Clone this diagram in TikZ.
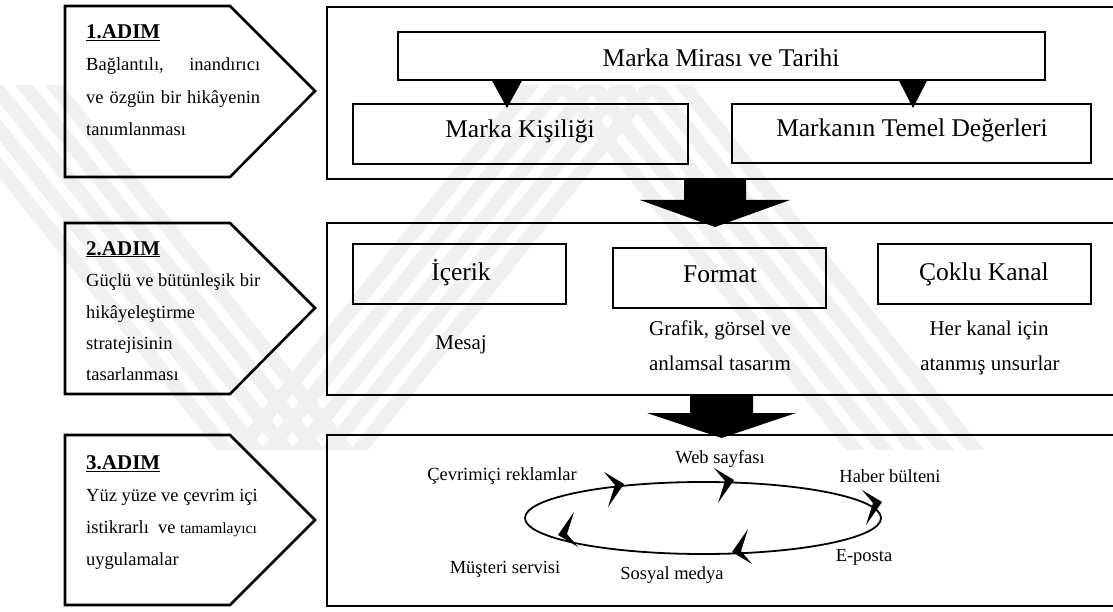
\documentclass[tikz,border=0pt]{standalone}
\usepackage{fontspec}
\setmainfont{Liberation Serif}
\usetikzlibrary{calc,shapes.geometric}
\begin{document}
\begin{tikzpicture}[x=1pt,y=-1pt,
  frame/.style={draw, line width=2pt},
  stepshape/.style={draw, line width=2.6pt, line join=miter},
  inbox/.style={draw, line width=1.4pt, inner sep=0pt},
  big/.style={font=\fontsize{25.5}{30}\selectfont, inner sep=0pt, anchor=base},
  mid/.style={font=\fontsize{21}{25}\selectfont, inner sep=0pt, anchor=base},
  small/.style={font=\fontsize{18.5}{22}\selectfont, inner sep=0pt, anchor=base},
  steptxt/.style={font=\fontsize{18.5}{22}\selectfont, inner sep=0pt, anchor=base west},
  steptitle/.style={font=\fontsize{21}{25}\selectfont\bfseries, inner sep=0pt, anchor=base west},
  blockarrow/.style={fill=black},
  wmark/.style={fill=black!6, draw=none},
  chev/.pic={\fill (-18,-12) -- (2,0) -- (-14,23) -- (-7,1) -- cycle;}
]
\useasboundingbox (0,0) rectangle (1113,612);

% faint striped watermark in the background: three bands of thin stripes
\foreach \xt/\xb in {-75/217, 522/230, 554/846}{
  \foreach \i in {0,...,4}{
    \fill[wmark] (\xt+\i*30,85) -- (\xt+\i*30+18,85) -- (\xb+\i*30+18,450) -- (\xb+\i*30,450) -- cycle;
  }
}

% step arrows on the left
\draw[stepshape] (65,6) -- (230,6) -- (315,91) -- (230,177) -- (65,177) -- cycle;
\draw[stepshape] (65,223) -- (230,223) -- (315,308) -- (230,394) -- (65,394) -- cycle;
\draw[stepshape] (65,435) -- (230,435) -- (315,520) -- (230,605) -- (65,605) -- cycle;

\node[steptitle] (s1h) at (86,39) {\underline{1.ADIM}};
\node[steptxt] (s1a) at (86,71) {\makebox[174pt][s]{Bağlantılı, inandırıcı}};
\node[steptxt] (s1b) at (86,104) {\makebox[174pt][s]{ve özgün bir hikâyenin}};
\node[steptxt] (s1c) at (86,136) {tanımlanması};

\node[steptitle] (s2h) at (86,255) {\underline{2.ADIM}};
\node[steptxt] (s2a) at (86,287) {Güçlü ve bütünleşik bir};
\node[steptxt] (s2b) at (86,318) {hikâyeleştirme};
\node[steptxt] (s2c) at (86,349) {stratejisinin};
\node[steptxt] (s2d) at (86,380) {tasarlanması};

\node[steptitle] (s3h) at (86,469) {\underline{3.ADIM}};
\node[steptxt] (s3a) at (86,501) {Yüz yüze ve çevrim içi};
\node[steptxt] (s3b) at (86,533) {istikrarlı\ \ ve {\fontsize{15.5}{18}\selectfont tamamlayıcı}};
\node[steptxt] (s3c) at (86,565) {uygulamalar};

% large frames on the right
\draw[frame] (1118,7) -- (327,7) -- (327,179) -- (1118,179);
\draw[frame] (1118,223) -- (327,223) -- (327,395) -- (1118,395);
\draw[frame] (1118,435) -- (327,435) -- (327,606) -- (1118,606);

% first frame: brand heritage
\node[inbox, minimum width=647, minimum height=48] (miras) at (721.5,56) {};
\node[big] (mirasT) at (721,67) {Marka Mirası ve Tarihi};
\node[inbox, minimum width=335, minimum height=60] (kis) at (520.5,134) {};
\node[big] (kisT) at (520,138) {Marka Kişiliği};
\node[inbox, minimum width=359, minimum height=59] (temel) at (911.5,133.5) {};
\node[big] (temelT) at (912,137) {Markanın Temel Değerleri};

\coordinate (t1) at (507,108);
\coordinate (t2) at (913,108);
\fill ($(t1 |- miras.south)+(-15,0)$) -- ($(t1 |- miras.south)+(15,0)$) -- (t1) -- cycle;
\fill ($(t2 |- miras.south)+(-14,0)$) -- ($(t2 |- miras.south)+(14,0)$) -- (t2) -- cycle;

% block arrow between first and second frame
\coordinate (a1) at (715,179);
\fill[blockarrow, shift={(a1)}] (-31,0) -- (31,0) -- (31,21) -- (75,21) -- (0,48) -- (-75,21) -- (-31,21) -- cycle;

% second frame: strategy
\node[inbox, minimum width=213, minimum height=60] (icerik) at (459.5,274) {};
\node[big] (icerikT) at (461,280) {İçerik};
\node[inbox, minimum width=213, minimum height=60] (format) at (719.5,278) {};
\node[big] (formatT) at (720,283) {Format};
\node[inbox, minimum width=213, minimum height=60] (coklu) at (984.5,274) {};
\node[big] (cokluT) at (984,280) {Çoklu Kanal};

\node[mid] (mesaj) at (461,349) {Mesaj};
\node[mid] (graf1) at (720,335) {Grafik, görsel ve};
\node[mid] (graf2) at (720,370) {anlamsal tasarım};
\node[mid] (her1) at (989,335) {Her kanal için};
\node[mid] (her2) at (990,370) {atanmış unsurlar};

% block arrow between second and third frame
\coordinate (a2) at (721.5,395);
\fill[blockarrow, shift={(a2)}] (-31.5,0) -- (31.5,0) -- (31.5,18) -- (74.5,18) -- (0,43) -- (-74.5,18) -- (-31.5,18) -- cycle;

% third frame: channel cycle
\node[draw, ellipse, line width=1.8pt, minimum width=356, minimum height=72, inner sep=0pt] (cycle) at (703,518) {};
\pic at (622,484) {chev};
\pic at (732,480) {chev};
\pic at (880,502) {chev};
\pic[rotate=180] at (734,552) {chev};
\pic[rotate=180] at (560,535) {chev};

\node[small] (web) at (720,463) {Web sayfası};
\node[small] (haber) at (890,482) {Haber bülteni};
\node[small] (eposta) at (864,561) {E-posta};
\node[small] (sosyal) at (672,579) {Sosyal medya};
\node[small] (cevrim) at (502,480) {Çevrimiçi reklamlar};
\node[small] (musteri) at (505,573) {Müşteri servisi};
\end{tikzpicture}
\end{document}
